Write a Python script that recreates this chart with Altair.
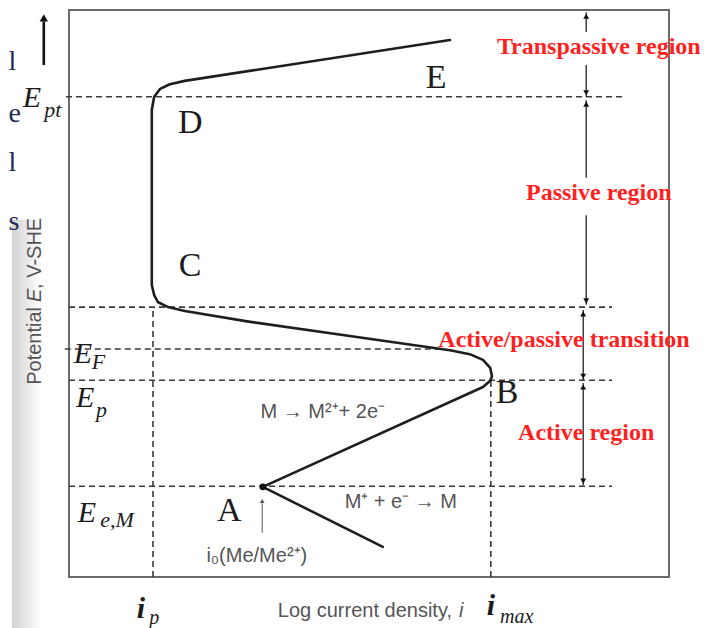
import altair as alt
import pandas as pd

# ---- data (chart units: frame spans 0..100 on both axes) ----
# polarization curve (log current density, potential)
curve_x = [52.3, 32.3, 69.0, 70.2, 70.5, 70.2, 69.0, 66.8, 63.5, 46.8, 30.2, 19.3, 16.5, 14.8, 14.2, 13.8, 13.8, 14.2, 15.2, 16.8, 19.3, 63.5]
curve_y = [5.3, 15.9, 33.5, 34.6, 35.4, 36.9, 38.3, 39.3, 40.0, 42.5, 45.0, 46.9, 47.6, 48.5, 49.7, 51.5, 82.4, 84.7, 86.1, 86.9, 87.5, 94.7]

# dashed guide lines
h_y = [84.7, 47.6, 40.2, 34.7, 16.0]
h_x1 = [-0.5, 0.0, -0.7, 0.0, 0.0]
h_x2 = [92.7, 90.5, 61.8, 90.5, 90.5]
v_x = [14.0, 70.3]
v_y1 = [0.0, 0.0]
v_y2 = [47.6, 34.7]

# region arrows on the right
arr_x = [86.2, 86.2, 86.2, 86.2, 85.7, 85.7]
arr_y1 = [99.6, 84.7, 84.1, 48.0, 47.1, 34.2]
arr_y2 = [96.1, 90.3, 70.4, 63.8, 34.7, 16.2]
up_tip_x = [86.2, 86.2, 85.7, 85.7]
up_tip_y = [99.6, 84.1, 47.1, 34.2]
down_tip_x = [86.2, 86.2, 85.7, 85.7]
down_tip_y = [84.7, 48.0, 34.7, 16.2]

# point labels
pt_labels = ["A", "B", "C", "D", "E"]
pt_x = [26.7, 73.0, 20.2, 20.2, 61.2]
pt_y = [11.6, 32.5, 54.9, 80.1, 88.0]

# potential labels E_x (main letter + subscript)
e_main_x = [-6.2, 2.3, 2.7, 3.0]
e_main_y = [84.5, 39.3, 31.6, 11.3]
e_sub = ["pt", "F", "p", "e,M"]
e_sub_x = [-2.7, 4.9, 5.4, 8.0]
e_sub_y = [82.3, 38.0, 29.4, 10.1]

# current labels i_x
i_main_x = [12.0, 70.3]
i_main_y = [-5.6, -5.2]
i_sub = ["p", "max"]
i_sub_x = [14.2, 74.6]
i_sub_y = [-7.2, -7.1]

# red region labels
reg_labels = ["Transpassive region", "Passive region", "Active/passive transition", "Active region"]
reg_x = [88.3, 88.3, 82.5, 86.2]
reg_y = [93.5, 67.7, 41.8, 25.4]

# gray annotation texts
ann_labels = ["M \u2192 M\u00b2\u207a+ 2e\u207b", "M\u207a + e\u207b \u2192 M", "i\u2080(Me/Me\u00b2\u207a)"]
ann_x = [42.3, 55.3, 31.3]
ann_y = [29.1, 13.2, 3.7]
xlab_parts = ["Log current density, ", "i"]
xlab_x = [34.8, 65.0]
xlab_y = [-6.0, -6.0]
xlab_style = ["normal", "italic"]
ylab_parts = ["Potential ", "E", ", V-SHE"]
ylab_x = [-5.7, -5.7, -5.7]
ylab_y = [33.9, 48.5, 50.8]
ylab_style = ["normal", "italic", "normal"]

# cropped neighbouring text fragments on the left edge
frag = ["l", "e", "l", "s"]
frag_x = [-10.1, -10.1, -10.1, -10.1]
frag_y = [90.9, 81.7, 73.0, 62.6]

# ---- chart ----
xs = alt.Scale(domain=[0, 100], nice=False, zero=False)
ys = alt.Scale(domain=[0, 100], nice=False, zero=False)


def X(f="x"):
    return alt.X(f"{f}:Q", scale=xs, axis=None)


def Y(f="y"):
    return alt.Y(f"{f}:Q", scale=ys, axis=None)


def texts(labels, xv, yv, **kw):
    df = pd.DataFrame({"t": labels, "x": xv, "y": yv})
    return alt.Chart(df).mark_text(**kw).encode(x=X(), y=Y(), text="t:N")


strip = alt.Chart(pd.DataFrame({"x": [-9.5], "x2": [-4.5], "y": [-12.0], "y2": [63.0]})).mark_rect(
    fill=alt.LinearGradient(
        gradient="linear",
        stops=[alt.GradientStop(color="#d2d2d2", offset=0), alt.GradientStop(color="#ffffff", offset=1)],
        x1=0, x2=1, y1=0, y2=0,
    )
).encode(x=X(), x2="x2:Q", y=Y(), y2="y2:Q")

frame = alt.Chart(pd.DataFrame({"x": [0], "x2": [100], "y": [0], "y2": [100]})).mark_rect(
    fill=None, stroke="#6a6a6a", strokeWidth=2
).encode(x=X(), x2="x2:Q", y=Y(), y2="y2:Q")

hl = alt.Chart(pd.DataFrame({"x": h_x1, "x2": h_x2, "y": h_y})).mark_rule(
    color="#3a3a3a", strokeWidth=1.6, strokeDash=[6, 4]
).encode(x=X(), x2="x2:Q", y=Y())

vl = alt.Chart(pd.DataFrame({"x": v_x, "y": v_y1, "y2": v_y2})).mark_rule(
    color="#3a3a3a", strokeWidth=1.6, strokeDash=[6, 4]
).encode(x=X(), y=Y(), y2="y2:Q")

curve = alt.Chart(pd.DataFrame({"x": curve_x, "y": curve_y, "o": list(range(len(curve_x)))})).mark_line(
    color="#1e1e1e", strokeWidth=2.6, strokeJoin="round", strokeCap="round"
).encode(x=X(), y=Y(), order="o:Q")

arrows = alt.Chart(pd.DataFrame({"x": arr_x, "y": arr_y1, "y2": arr_y2})).mark_rule(
    color="#111", strokeWidth=1.2
).encode(x=X(), y=Y(), y2="y2:Q")

heads_up = alt.Chart(pd.DataFrame({"x": up_tip_x, "y": [v - 0.7 for v in up_tip_y]})).mark_point(
    shape="triangle-up", filled=True, color="#111", size=35, opacity=1
).encode(x=X(), y=Y())
heads_down = alt.Chart(pd.DataFrame({"x": down_tip_x, "y": [v + 0.7 for v in down_tip_y]})).mark_point(
    shape="triangle-down", filled=True, color="#111", size=35, opacity=1
).encode(x=X(), y=Y())

# top-left potential arrow
lt_arrow = alt.Chart(pd.DataFrame({"x": [-4.2], "y": [90.3], "y2": [98.0]})).mark_rule(
    color="#111", strokeWidth=2.6
).encode(x=X(), y=Y(), y2="y2:Q")
lt_head = alt.Chart(pd.DataFrame({"x": [-4.2], "y": [98.6]})).mark_point(
    shape="triangle-up", filled=True, color="#111", size=70, opacity=1
).encode(x=X(), y=Y())

# small arrow to i0 and the dot at A
io_arrow = alt.Chart(pd.DataFrame({"x": [32.2], "y": [7.8], "y2": [13.0]})).mark_rule(
    color="#555", strokeWidth=1
).encode(x=X(), y=Y(), y2="y2:Q")
io_head = alt.Chart(pd.DataFrame({"x": [32.2], "y": [13.4]})).mark_point(
    shape="triangle-up", filled=True, color="#555", size=22, opacity=1
).encode(x=X(), y=Y())
dot = alt.Chart(pd.DataFrame({"x": [32.3], "y": [15.9]})).mark_point(
    shape="circle", filled=True, color="#111", size=45, opacity=1
).encode(x=X(), y=Y())

serif = "Liberation Serif"
sans = "Liberation Sans"

layers = [
    strip, frame, hl, vl, curve, arrows, heads_up, heads_down, lt_arrow, lt_head, io_arrow, io_head, dot,
    texts(pt_labels, pt_x, pt_y, font=serif, fontSize=34, color="#1c1c1c", baseline="middle"),
    texts(["E"] * 4, e_main_x, e_main_y, font=serif, fontSize=30, fontStyle="italic", color="#1c1c1c", baseline="middle"),
    texts(e_sub, e_sub_x, e_sub_y, font=serif, fontSize=22, fontStyle="italic", color="#1c1c1c", baseline="middle"),
    texts(["i", "i"], i_main_x, i_main_y, font=serif, fontSize=30, fontStyle="italic", fontWeight="bold", color="#1c1c1c", baseline="middle"),
    texts(i_sub, i_sub_x, i_sub_y, font=serif, fontSize=20, fontStyle="italic", color="#1c1c1c", baseline="middle"),
    texts(reg_labels, reg_x, reg_y, font=serif, fontSize=24, fontWeight="bold", color="#ff1f1f", baseline="middle"),
    texts(ann_labels, ann_x, ann_y, font=sans, fontSize=20, color="#555555", baseline="middle"),
    texts(frag, frag_x, frag_y, font=serif, fontSize=28, color="#1f2a55", align="left", baseline="middle"),
]
for part, xv, yv, st in zip(xlab_parts, xlab_x, xlab_y, xlab_style):
    layers.append(texts([part], [xv], [yv], font=sans, fontSize=20, fontStyle=st, color="#555555",
                        align="left", baseline="middle"))
for part, xv, yv, st in zip(ylab_parts, ylab_x, ylab_y, ylab_style):
    layers.append(texts([part], [xv], [yv], font=sans, fontSize=20, fontStyle=st, color="#555555",
                        angle=270, align="left", baseline="middle"))

chart = alt.layer(*layers).properties(
    width=600, height=567,
    autosize=alt.AutoSizeParams(type="none"),
    padding={"left": 61, "top": 2, "right": 34, "bottom": 51},
).configure_view(stroke=None)

chart.save("out.html", embed_options={"renderer": "svg", "actions": False})
